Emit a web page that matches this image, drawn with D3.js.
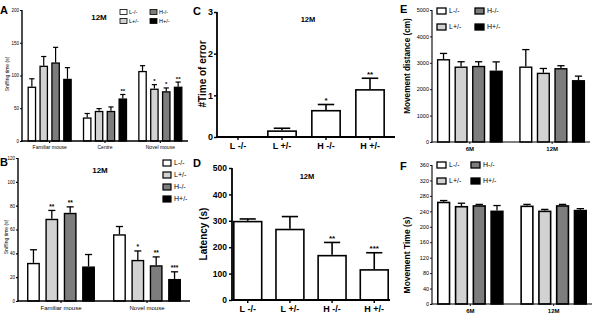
<!DOCTYPE html>
<html><head><meta charset="utf-8">
<script src="https://cdn.jsdelivr.net/npm/d3@7"></script>
<style>html,body{margin:0;padding:0;background:#fff;}</style>
</head><body>
<svg id="c" width="600" height="320"></svg>
<script>
// ---------- data ----------
const seriesNames = ["L-/-", "L+/-", "H-/-", "H+/-"];

const catsA = ["Familiar mouse", "Centre", "Novel mouse"];
const meansA = [[83, 115, 120, 95], [36, 46, 46, 65], [107, 80, 76, 83]];
const semA = [[12, 14, 23, 17], [6, 3.5, 6, 6], [8, 6, 5, 7]];
const sigA = [["", "", "", ""], ["", "", "", "**"], ["", "*", "*", "**"]];
const ticksA = [0, 50, 100, 150, 200];

const catsB = ["Familiar mouse", "Novel mouse"];
const meansB = [[32, 69, 74, 29], [56, 34.5, 30, 18.5]];
const semB = [[11, 7, 5, 10], [6.5, 7.5, 7, 6]];
const sigB = [["", "**", "**", ""], ["", "*", "**", "***"]];
const ticksB = [0, 20, 40, 60, 80, 100, 120];

const catsC = ["L -/-", "L +/-", "H -/-", "H +/-"];
const meansC = [0, 0.16, 0.65, 1.15];
const semC = [0, 0.05, 0.13, 0.26];
const sigC = ["", "", "*", "**"];
const ticksC = [0, 1, 2, 3];

const catsD = ["L -/-", "L +/-", "H -/-", "H +/-"];
const meansD = [300, 270, 171, 117];
const semD = [7, 46, 47, 62];
const sigD = ["", "", "**", "***"];
const ticksD = [0, 100, 200, 300, 400, 500];

const catsE = ["6M", "12M"];
const meansE = [[3140, 2860, 2885, 2705], [2860, 2625, 2800, 2345]];
const semE = [[215, 180, 155, 330], [640, 160, 90, 150]];
const ticksE = [0, 1000, 2000, 3000, 4000, 5000];

const catsF = ["6M", "12M"];
const meansF = [[265, 254, 256, 242], [255, 242, 256, 244]];
const semF = [[3, 7, 2, 13], [3, 3, 2, 3]];
const ticksF = [0, 40, 80, 120, 160, 200, 240, 280, 320, 360];

// ---------- style ----------
const FONT = "'Liberation Sans', Arial, sans-serif";
const fills = ["#ffffff", "#d2d2d2", "#7d7d7d", "#000000"];
const svg = d3.select("#c");

function panel(o) {
  const g = svg.append("g");
  const y = d3.scaleLinear().domain([o.yTicks[0], o.yTicks[o.yTicks.length - 1]]).range([o.bottom, o.top]);
  const x0 = d3.scaleBand().domain(o.cats).range(o.xRange).paddingInner(o.padIn).paddingOuter(o.padOut);
  const grouped = Array.isArray(o.means[0]);
  const x1 = d3.scaleBand().domain(seriesNames).range([0, x0.bandwidth()]).paddingInner(o.padSeries || 0).paddingOuter(0);

  const items = [];
  o.cats.forEach((c, i) => {
    if (grouped) {
      seriesNames.forEach((s, j) => items.push({x: x0(c) + x1(s), w: x1.bandwidth(), m: o.means[i][j], e: o.sem[i][j], sig: o.sig ? o.sig[i][j] : "", fill: fills[j]}));
    } else {
      items.push({x: x0(c), w: x0.bandwidth(), m: o.means[i], e: o.sem[i], sig: o.sig ? o.sig[i] : "", fill: "#ffffff"});
    }
  });
  const drawn = items.filter(d => d.m > 0);
  const sw = o.barW;
  drawn.forEach(d => {
    const cx = d.x + d.w / 2;
    const top = y(d.m + d.e);
    g.append("line").attr("x1", cx).attr("x2", cx).attr("y1", y(d.m)).attr("y2", top).attr("stroke", "#000").attr("stroke-width", o.errW);
    const cw = d.w * (o.capFrac || 0.5);
    g.append("line").attr("x1", cx - cw / 2).attr("x2", cx + cw / 2).attr("y1", top).attr("y2", top).attr("stroke", "#000").attr("stroke-width", o.errW);
    if (d.sig) {
      g.append("text").attr("x", cx).attr("y", top - 1.5).attr("text-anchor", "middle")
        .attr("font-family", FONT).attr("font-size", o.starFont).attr("font-weight", "bold").text(d.sig);
    }
  });
  g.selectAll("rect.bar").data(drawn).enter().append("rect")
    .attr("x", d => d.x + sw / 2).attr("width", d => Math.max(0, d.w - sw))
    .attr("y", d => y(d.m) + sw / 2).attr("height", d => Math.max(0, y(0) - y(d.m) - sw / 2))
    .attr("fill", d => d.fill).attr("stroke", "#000").attr("stroke-width", sw);

  const ya = d3.axisLeft(y).tickValues(o.yTicks).tickFormat(d3.format("d")).tickSize(o.tickLen).tickSizeOuter(0).tickPadding(o.tickPad);
  const yg = g.append("g").attr("transform", `translate(${o.left},0)`).call(ya)
    .attr("font-family", FONT).attr("font-size", o.yFont).attr("font-weight", o.yBold ? "bold" : "normal");
  yg.select(".domain").attr("stroke-width", o.axisW).attr("d", `M0,${o.top}V${o.bottom + o.axisW / 2}`);
  yg.selectAll(".tick line").attr("stroke-width", o.axisW * 0.8);
  yg.selectAll(".tick text").attr("fill", "#000");

  g.append("line").attr("x1", o.left - o.axisW / 2).attr("x2", o.right).attr("y1", o.bottom).attr("y2", o.bottom)
    .attr("stroke", "#000").attr("stroke-width", o.axisW);
  const xa = d3.axisBottom(x0).tickSize(o.xTickLen).tickSizeOuter(0).tickPadding(o.xPad);
  const xg = g.append("g").attr("transform", `translate(0,${o.bottom})`).call(xa)
    .attr("font-family", FONT).attr("font-size", o.xFont).attr("font-weight", o.xBold ? "bold" : "normal");
  xg.select(".domain").remove();
  xg.selectAll(".tick line").attr("stroke-width", o.axisW * 0.8);
  xg.selectAll(".tick text").attr("fill", "#000");

  g.append("text").attr("transform", `translate(${o.yLabX},${o.yLabY}) rotate(-90)`).attr("text-anchor", "middle")
    .attr("font-family", FONT).attr("font-size", o.yLabFont).attr("font-weight", o.yLabBold ? "bold" : "normal").text(o.yLabel);
  g.append("text").attr("x", o.letter[1]).attr("y", o.letter[2]).attr("font-family", FONT).attr("font-size", 11)
    .attr("font-weight", "bold").text(o.letter[0]);
  if (o.title) g.append("text").attr("x", o.title[1]).attr("y", o.title[2]).attr("text-anchor", "middle")
    .attr("font-family", FONT).attr("font-size", o.title[3]).attr("font-weight", "bold").text(o.title[0]);
  if (o.legend) {
    const L = o.legend;
    seriesNames.forEach((s, j) => {
      const p = L.pos[j];
      g.append("rect").attr("x", p[0]).attr("y", p[1] - L.h / 2).attr("width", L.w).attr("height", L.h)
        .attr("fill", fills[j]).attr("stroke", "#000").attr("stroke-width", L.sw);
      g.append("text").attr("x", p[0] + L.w + L.gap).attr("y", p[1]).attr("dy", "0.35em")
        .attr("font-family", FONT).attr("font-size", L.font).text(s);
    });
  }
}

panel({cats: catsA, means: meansA, sem: semA, sig: sigA, yTicks: ticksA,
  left: 22, right: 188, top: 10, bottom: 141, xRange: [22, 188], padIn: 0.2, padOut: 0.1, padSeries: 0.27,
  barW: 1.3, errW: 1.2, capFrac: 0.6, starFont: 6,
  axisW: 1.4, tickLen: 2, tickPad: 1, yFont: 4.5, yBold: false,
  xTickLen: 2, xPad: 2, xFont: 5, xBold: false,
  yLabel: "Sniffing time (s)", yLabX: 9, yLabY: 74, yLabFont: 5, yLabBold: false,
  letter: ["A", 0, 14], title: ["12M", 99, 20, 8],
  legend: {w: 7, h: 5, sw: 0.8, gap: 2, font: 5.5, pos: [[120, 12], [120, 21], [150, 12], [150, 21]]}
});

panel({cats: catsB, means: meansB, sem: semB, sig: sigB, yTicks: ticksB,
  left: 18, right: 190, top: 158, bottom: 301, xRange: [18, 190], padIn: 0.21, padOut: 0.105, padSeries: 0.3,
  barW: 1.4, errW: 1.3, capFrac: 0.55, starFont: 6.5,
  axisW: 1.4, tickLen: 2, tickPad: 1, yFont: 4.5, yBold: false,
  xTickLen: 2, xPad: 2.5, xFont: 6, xBold: false,
  yLabel: "Sniffing time (s)", yLabX: 8, yLabY: 237, yLabFont: 5, yLabBold: false,
  letter: ["B", 0, 166], title: ["12M", 100, 173, 8],
  legend: {w: 8, h: 6, sw: 1.2, gap: 3, font: 7, pos: [[163, 163], [163, 175], [163, 187], [163, 199]]}
});

panel({cats: catsC, means: meansC, sem: semC, sig: sigC, yTicks: ticksC,
  left: 217, right: 395, top: 12, bottom: 137, xRange: [216, 392], padIn: 0.32, padOut: 0.16,
  barW: 1.6, errW: 1.6, capFrac: 0.55, starFont: 8,
  axisW: 1.8, tickLen: 3, tickPad: 1, yFont: 9, yBold: true,
  xTickLen: 3, xPad: 3, xFont: 9, xBold: true,
  yLabel: "#Time of error", yLabX: 206, yLabY: 74, yLabFont: 10, yLabBold: true,
  letter: ["C", 193, 15], title: ["12M", 308, 22, 7.5]
});

panel({cats: catsD, means: meansD, sem: semD, sig: sigD, yTicks: ticksD,
  left: 232, right: 390, top: 168, bottom: 300, xRange: [233, 389], padIn: 0.3, padOut: 0,
  barW: 1.6, errW: 1.6, capFrac: 0.55, starFont: 8,
  axisW: 1.8, tickLen: 3, tickPad: 2, yFont: 8.5, yBold: true,
  xTickLen: 3, xPad: 3, xFont: 9, xBold: true,
  yLabel: "Latency (s)", yLabX: 207, yLabY: 234, yLabFont: 10, yLabBold: true,
  letter: ["D", 193, 167], title: ["12M", 307, 179, 7.5]
});

panel({cats: catsE, means: meansE, sem: semE, yTicks: ticksE,
  left: 432, right: 590, top: 10, bottom: 142, xRange: [432, 590], padIn: 0.2, padOut: 0.06, padSeries: 0.25,
  barW: 1.4, errW: 1.3, capFrac: 0.55, starFont: 7,
  axisW: 1.1, tickLen: 2, tickPad: 1, yFont: 5.5, yBold: false,
  xTickLen: 2, xPad: 2.5, xFont: 6, xBold: true,
  yLabel: "Movement distance (cm)", yLabX: 410, yLabY: 66, yLabFont: 8.2, yLabBold: true,
  letter: ["E", 400, 13],
  legend: {w: 9, h: 6, sw: 1.3, gap: 3, font: 7, pos: [[437, 11], [437, 27], [475, 11], [475, 27]]}
});

panel({cats: catsF, means: meansF, sem: semF, yTicks: ticksF,
  left: 432, right: 592, top: 165, bottom: 304, xRange: [432, 592], padIn: 0.2, padOut: 0.06, padSeries: 0.25,
  barW: 1.6, errW: 1.3, capFrac: 0.55, starFont: 7,
  axisW: 1.1, tickLen: 2, tickPad: 1, yFont: 5.5, yBold: false,
  xTickLen: 2, xPad: 2.5, xFont: 6, xBold: true,
  yLabel: "Movement Time (s)", yLabX: 410, yLabY: 255, yLabFont: 8.5, yLabBold: true,
  letter: ["F", 400, 170],
  legend: {w: 9, h: 6, sw: 1.3, gap: 3, font: 7, pos: [[437, 165], [437, 181], [471, 165], [471, 181]]}
});
</script>
</body></html>
